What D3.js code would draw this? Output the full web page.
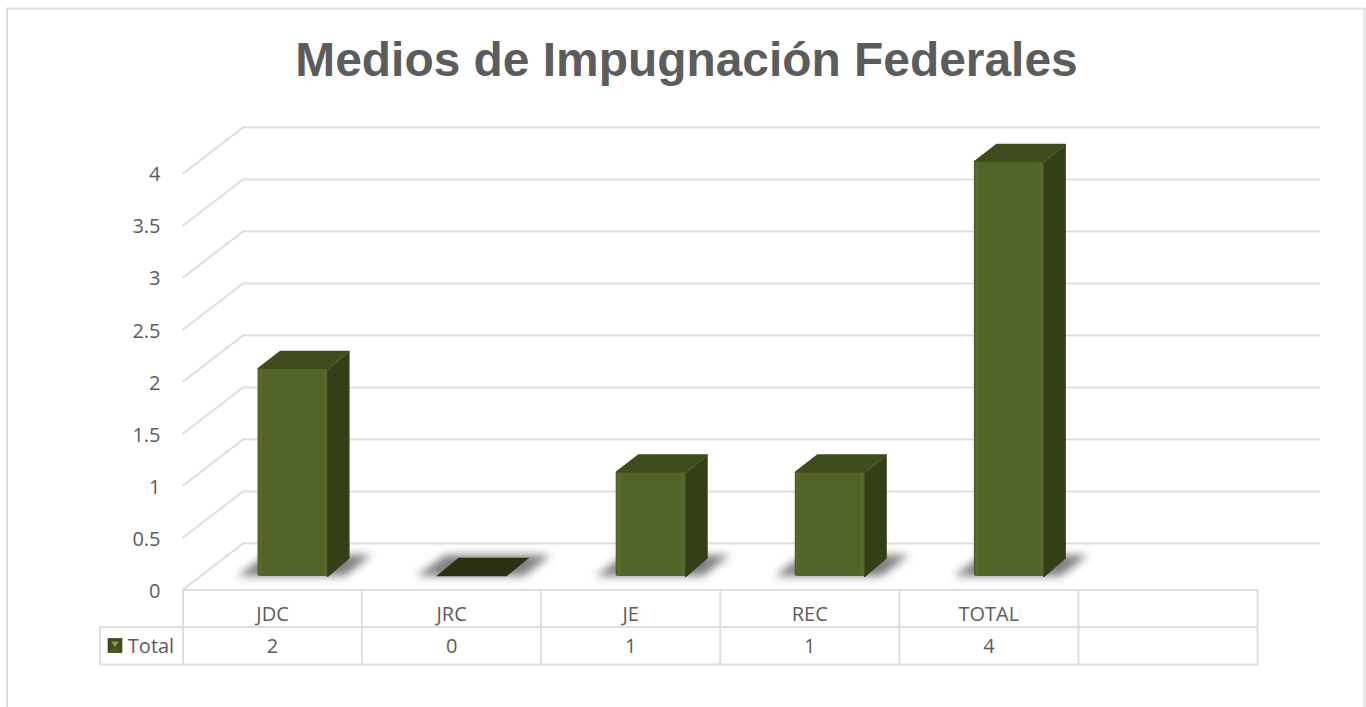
<!DOCTYPE html>
<html><head><meta charset="utf-8">
<script src="https://cdn.jsdelivr.net/npm/d3@7/dist/d3.min.js"></script>
<style>html,body{margin:0;padding:0;background:#fff;overflow:hidden}svg{display:block}</style>
</head><body><svg id="c" width="1366" height="707"></svg>
<script>
const titleText = "Medios de Impugnación Federales";
const categories = ["JDC","JRC","JE","REC","TOTAL",""];
const values = [2,0,1,1,4,null];
const seriesName = "Total";
const yTicks = [0,0.5,1,1.5,2,2.5,3,3.5,4];
const dataLabels = ["2","0","1","1","4",""];

const W=1366,H=707, gridCol="#dedede", textCol="#5c5c5c";
const bodyFont="'Open Sans','Noto Sans',sans-serif", bodySize=20;
const svg=d3.select("#c").attr("viewBox",`0 0 ${W} ${H}`);
const defs=svg.append("defs");
const blur=defs.append("filter").attr("id","blur").attr("x","-30%").attr("y","-80%").attr("width","160%").attr("height","260%");
blur.append("feGaussianBlur").attr("stdDeviation",4);
const grad=defs.append("linearGradient").attr("id","front").attr("x1",0).attr("x2",1).attr("y1",0).attr("y2",0);
[[0,"#465622"],[0.03,"#5a6c2c"],[0.08,"#526327"],[0.92,"#526327"],[0.97,"#5a6c2c"],[1,"#465622"]].forEach(s=>grad.append("stop").attr("offset",s[0]).attr("stop-color",s[1]));

// chart frame (runs off the bottom of the picture)
svg.append("path").attr("d",`M7,${H}V8.5H1364.5V${H}`).attr("fill","none").attr("stroke",gridCol).attr("stroke-width",2);

svg.append("text").attr("x",686.5).attr("y",75.5).attr("text-anchor","middle")
  .attr("font-family","'Liberation Sans',Arial,sans-serif").attr("font-weight",700).attr("font-size",47.9)
  .attr("fill",textCol).text(titleText);

// scales
const tableX=d3.scaleBand().domain(d3.range(categories.length)).range([183,1257.5]);
const yBack=d3.scaleLinear().domain([0,4]).range([543.5,127.5]);
const yLabel=d3.scaleLinear().domain([0,4]).range([590.5,173.5]);
const yBar=d3.scaleLinear().domain([0,4]).range([576,162]);
const depthX=61, depthY=46.5;     // wall offset
const barDX=22, barDY=18, barW=70; // bar depth

// walls
const grid=svg.append("g").attr("fill","none").attr("stroke",gridCol).attr("stroke-width",2);
yTicks.forEach(t=>{
  const y=yBack(t);
  grid.append("path").attr("d",`M${182.5},${y+depthY}L${182+depthX},${y}H1320`);
});

// value axis labels
const axis=d3.axisLeft(yLabel).tickValues(yTicks).tickSize(0).tickPadding(0).tickFormat(d3.format("~g"));
const ax=svg.append("g").attr("transform","translate(160.5,0)").call(axis);
ax.select(".domain").remove();
ax.selectAll("text").attr("font-family",bodyFont).attr("font-size",bodySize).attr("fill",textCol).attr("dy","0.36em");

// shadows
const barsData=categories.map((c,i)=>({c,v:values[i],i})).filter(d=>d.v!==null);
const segOff=-20;
const bx=d=>tableX(d.i)+tableX.bandwidth()/2-segOff;
svg.append("g").selectAll("path").data(barsData).join("path")
  .attr("d",d=>{const x=bx(d)-barW/2,b=yBar(0);
    return `M${x-20},${b}L${x+9},${b-21}H${x+barW+44}L${x+barW+17},${b}Z`;})
  .attr("fill","#333").attr("opacity",.62).attr("filter","url(#blur)");

// bars
const bars=svg.append("g").selectAll("g").data(barsData).join("g");
bars.each(function(d){
  const g=d3.select(this), x=bx(d)-barW/2, b=yBar(0), t=yBar(d.v), r=x+barW;
  if(d.v===0){
    g.append("path").attr("d",`M${x},${b}H${r}L${r+barDX},${b-barDY}H${x+barDX}Z`).attr("fill","#2a3012").attr("stroke","#2a3012").attr("stroke-width",.5).attr("stroke-linejoin","round");
    return;
  }
  g.append("path").attr("d",`M${r},${t}L${r+barDX-1},${t-barDY+1}V${b-barDY}L${r},${b}Z`).attr("fill","#333f17").attr("stroke","#333f17").attr("stroke-width",2).attr("stroke-linejoin","round");
  g.append("path").attr("d",`M${x+1},${t}L${x+barDX+1},${t-barDY+1}H${r+barDX-1}L${r},${t}Z`).attr("fill","#3f4c1e").attr("stroke","#3f4c1e").attr("stroke-width",2.5).attr("stroke-linejoin","round");
  g.append("path").attr("d",`M${r},${t}L${r+barDX-1},${t-barDY+1}`).attr("stroke","#4a5a24").attr("stroke-width",1.2);
  g.append("rect").attr("x",x).attr("y",t).attr("width",barW).attr("height",b-t).attr("rx",2).attr("fill","url(#front)");
});

// data table
const tbl=svg.append("g").attr("fill","none").attr("stroke",gridCol).attr("stroke-width",2);
const rowTop=590, rowMid=627, rowBot=664.5, legL=100;
tbl.append("path").attr("d",`M183,${rowTop}H1257.5V${rowBot}H${legL}V${rowMid}H1257.5`);
d3.range(categories.length).forEach(i=>{
  const x=tableX(i);
  tbl.append("path").attr("d",`M${x},${rowTop}V${rowBot}`);
});
const font=sel=>sel.attr("font-family",bodyFont).attr("font-size",bodySize).attr("fill",textCol).attr("text-anchor","middle");
svg.append("g").selectAll("text").data(categories).join("text").call(font)
  .attr("x",(d,i)=>tableX(i)+tableX.bandwidth()/2).attr("y",621).text(d=>d);
svg.append("g").selectAll("text").data(dataLabels).join("text").call(font)
  .attr("x",(d,i)=>tableX(i)+tableX.bandwidth()/2).attr("y",653).text(d=>d);
svg.append("text").call(font).attr("x",151).attr("y",652.5).text(seriesName);

// legend key (bevelled square)
const k=svg.append("g").attr("transform","translate(108,638.5)");
const ks=14;
k.append("rect").attr("width",ks).attr("height",ks).attr("fill","#3f4c1e");
k.append("path").attr("d",`M3,3H${ks-3}L${ks/2},${ks*0.6}Z`).attr("fill","#8a9e52");
k.append("path").attr("d",`M0,${ks}H${ks}L${ks/2},${ks*0.55}Z`).attr("fill","#4a5a24");
k.append("rect").attr("width",ks).attr("height",ks).attr("fill","none").attr("stroke","#333f17").attr("stroke-width",.6);
</script></body></html>
